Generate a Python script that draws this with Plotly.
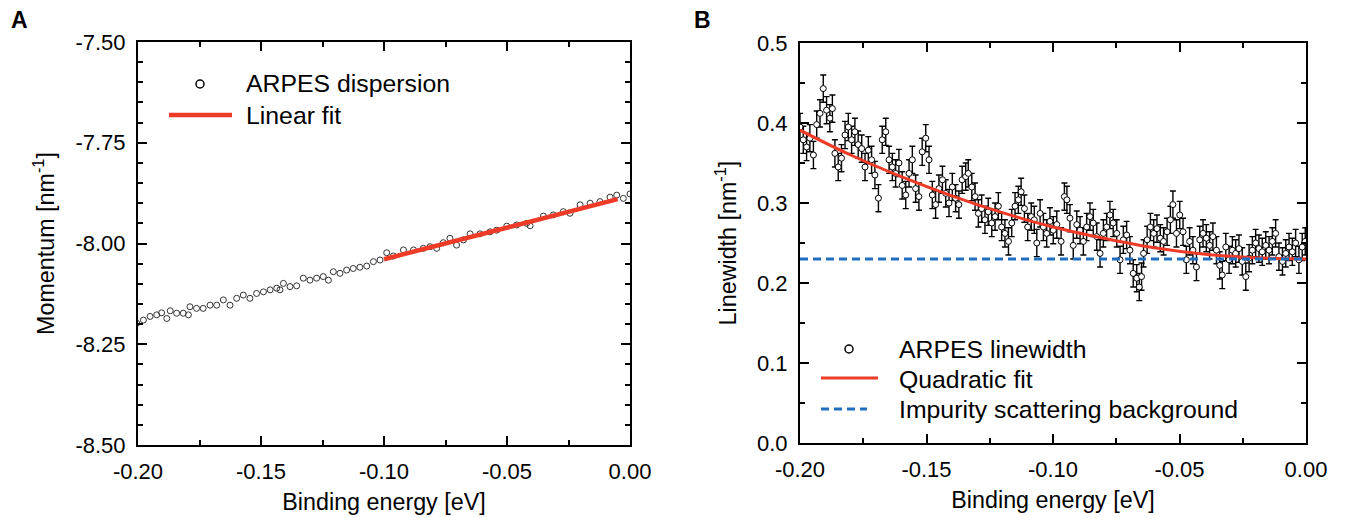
import numpy as np
import plotly.graph_objects as go

# ---------------- Panel A data ----------------
a_energy = [-0.2005, -0.1978, -0.1951, -0.1924, -0.1904, -0.1883, -0.1869, -0.1843, -0.1816, -0.1795,
            -0.1789, -0.1762, -0.1735, -0.1707, -0.1680, -0.1653, -0.1626, -0.1599, -0.1572, -0.1545,
            -0.1518, -0.1490, -0.1463, -0.1436, -0.1423, -0.1409, -0.1382, -0.1355, -0.1328, -0.1301,
            -0.1274, -0.1247, -0.1226, -0.1206, -0.1179, -0.1152, -0.1125, -0.1098, -0.1070, -0.1043,
            -0.1016, -0.0989, -0.0962, -0.0921, -0.0880, -0.0840, -0.0813, -0.0786, -0.0759, -0.0732,
            -0.0705, -0.0677, -0.0650, -0.0610, -0.0569, -0.0542, -0.0501, -0.0461, -0.0420, -0.0406,
            -0.0352, -0.0312, -0.0271, -0.0244, -0.0203, -0.0162, -0.0122, -0.0081, -0.0054, -0.0027,
            0.0000]
a_momentum = [-8.198, -8.190, -8.181, -8.177, -8.172, -8.186, -8.167, -8.173, -8.173, -8.177,
              -8.157, -8.161, -8.161, -8.153, -8.153, -8.140, -8.153, -8.136, -8.128, -8.136,
              -8.124, -8.120, -8.115, -8.111, -8.115, -8.099, -8.107, -8.105, -8.086, -8.091,
              -8.086, -8.082, -8.091, -8.070, -8.074, -8.066, -8.062, -8.059, -8.056, -8.045,
              -8.041, -8.023, -8.031, -8.016, -8.016, -8.012, -8.008, -8.012, -7.998, -7.987,
              -8.004, -7.991, -7.976, -7.976, -7.971, -7.967, -7.957, -7.954, -7.950, -7.956,
              -7.932, -7.929, -7.921, -7.925, -7.904, -7.900, -7.896, -7.885, -7.880, -7.888,
              -7.877]
a_fit_energy = [-0.100, -0.005]
a_fit_momentum = [-8.039, -7.890]

a_xtick_vals = [-0.20, -0.15, -0.10, -0.05, 0.00]
a_xtick_text = ["-0.20", "-0.15", "-0.10", "-0.05", "0.00"]
a_ytick_vals = [-7.50, -7.75, -8.00, -8.25, -8.50]
a_ytick_text = ["-7.50", "-7.75", "-8.00", "-8.25", "-8.50"]

# ---------------- Panel B data ----------------
b_energy = [-0.2000, -0.1987, -0.1974, -0.1961, -0.1947, -0.1934, -0.1921, -0.1908, -0.1895, -0.1882,
            -0.1872, -0.1862, -0.1849, -0.1836, -0.1822, -0.1809, -0.1796, -0.1783, -0.1770, -0.1756,
            -0.1743, -0.1730, -0.1717, -0.1704, -0.1690, -0.1675, -0.1661, -0.1648, -0.1635, -0.1622,
            -0.1609, -0.1596, -0.1582, -0.1569, -0.1556, -0.1543, -0.1530, -0.1517, -0.1503, -0.1490,
            -0.1477, -0.1464, -0.1451, -0.1437, -0.1424, -0.1411, -0.1398, -0.1385, -0.1372, -0.1359,
            -0.1345,
            -0.1335, -0.1321, -0.1308, -0.1295, -0.1282, -0.1269, -0.1256, -0.1242, -0.1229, -0.1216,
            -0.1203, -0.1190, -0.1176, -0.1163, -0.1150, -0.1137, -0.1126, -0.1113, -0.1100, -0.1086,
            -0.1074, -0.1064, -0.1051, -0.1038, -0.1025, -0.1012, -0.0999, -0.0985, -0.0968, -0.0955,
            -0.0945, -0.0933, -0.0920, -0.0906, -0.0893, -0.0880, -0.0867, -0.0854, -0.0841, -0.0827,
            -0.0814, -0.0801, -0.0788, -0.0775, -0.0762, -0.0748, -0.0735, -0.0722, -0.0709, -0.0696,
            -0.0683, -0.0669,
            -0.0659, -0.0650, -0.0642, -0.0628, -0.0615, -0.0602, -0.0589, -0.0576, -0.0563, -0.0549,
            -0.0536, -0.0526, -0.0512, -0.0499, -0.0486, -0.0473, -0.0460, -0.0447, -0.0433, -0.0420,
            -0.0407, -0.0394, -0.0381, -0.0368, -0.0354, -0.0341, -0.0331, -0.0317, -0.0304, -0.0291,
            -0.0278, -0.0265, -0.0252, -0.0238, -0.0225, -0.0212, -0.0199, -0.0186, -0.0173, -0.0159,
            -0.0146, -0.0133, -0.0120, -0.0107, -0.0093, -0.0080, -0.0067, -0.0054, -0.0041, -0.0028,
            -0.0015, -0.0003]
b_linewidth = [0.395, 0.379, 0.370, 0.381, 0.360, 0.398, 0.412, 0.443, 0.416, 0.406,
               0.418, 0.362, 0.345, 0.356, 0.385, 0.395, 0.379, 0.389, 0.373, 0.368,
               0.345, 0.366, 0.354, 0.335, 0.306, 0.379, 0.389, 0.354, 0.345, 0.337,
               0.350, 0.322, 0.310, 0.337, 0.354, 0.318, 0.308, 0.364, 0.381, 0.354,
               0.310, 0.298, 0.318, 0.329, 0.312, 0.300, 0.320, 0.306, 0.298, 0.329,
               0.333,
               0.337, 0.320, 0.308, 0.287, 0.293, 0.279, 0.289, 0.275, 0.283, 0.296,
               0.270, 0.262, 0.252, 0.275, 0.296, 0.304, 0.314, 0.293, 0.270, 0.283,
               0.279, 0.250, 0.287, 0.270, 0.262, 0.277, 0.266, 0.273, 0.252, 0.308,
               0.304, 0.281, 0.247, 0.273, 0.266, 0.252, 0.270, 0.283, 0.275, 0.258,
               0.237, 0.262, 0.270, 0.285, 0.275, 0.262, 0.229, 0.254, 0.260, 0.241,
               0.212, 0.206,
               0.195, 0.208, 0.237, 0.254, 0.270, 0.262, 0.268, 0.256, 0.252, 0.264,
               0.279, 0.298, 0.262, 0.285, 0.264, 0.229, 0.252, 0.241, 0.220, 0.254,
               0.262, 0.256, 0.247, 0.258, 0.241, 0.222, 0.210, 0.245, 0.229, 0.241,
               0.237, 0.243, 0.227, 0.208, 0.231, 0.241, 0.250, 0.243, 0.239, 0.247,
               0.241, 0.252, 0.262, 0.233, 0.227, 0.237, 0.245, 0.239, 0.250, 0.229,
               0.245, 0.252]
b_error = 0.017

b_fit_energy = [-0.20, -0.18, -0.16, -0.14, -0.12, -0.10, -0.08, -0.06, -0.04, -0.02, 0.00]
b_fit_linewidth = [0.391, 0.360, 0.333, 0.309, 0.288, 0.270, 0.256, 0.244, 0.236, 0.2316, 0.230]
b_bg_energy = [-0.20, 0.00]
b_bg_linewidth = [0.23, 0.23]

b_xtick_vals = [-0.20, -0.15, -0.10, -0.05, 0.00]
b_xtick_text = ["-0.20", "-0.15", "-0.10", "-0.05", "0.00"]
b_ytick_vals = [0.0, 0.1, 0.2, 0.3, 0.4, 0.5]
b_ytick_text = ["0.0", "0.1", "0.2", "0.3", "0.4", "0.5"]

# ---------------- styling ----------------
W, H = 1346, 518
OFF = 8  # page body margin
RED = "#EE3B28"
BLUE = "#1F6EC0"
FONT = "Arial, Liberation Sans, Helvetica, sans-serif"
TICK_SIZE = 22
TITLE_SIZE = 23.3
LEG_SIZE = 24.8


def px_x(p):
    return (p - OFF) / W


def px_y(p):
    return 1 - (p - OFF) / H


fig = go.Figure()

# Panel A
fig.add_trace(go.Scatter(x=a_energy, y=a_momentum, mode="markers", xaxis="x", yaxis="y",
                         marker=dict(symbol="circle-open", size=6, color="#333333",
                                     line=dict(width=1, color="#333333")),
                         name="ARPES dispersion", showlegend=False))
fig.add_trace(go.Scatter(x=a_fit_energy, y=a_fit_momentum, mode="lines", xaxis="x", yaxis="y",
                         line=dict(color=RED, width=4.5), name="Linear fit", showlegend=False))

# Panel B
fig.add_trace(go.Scatter(x=b_energy, y=b_linewidth, mode="markers", xaxis="x2", yaxis="y2",
                         marker=dict(symbol="circle", size=6, color="white",
                                     line=dict(width=1, color="black")),
                         error_y=dict(type="constant", value=b_error, color="black",
                                      thickness=1.4, width=3),
                         name="ARPES linewidth", showlegend=False))
fig.add_trace(go.Scatter(x=b_fit_energy, y=b_fit_linewidth, mode="lines", xaxis="x2", yaxis="y2",
                         line=dict(color=RED, width=3, shape="spline"),
                         name="Quadratic fit", showlegend=False))
fig.add_trace(go.Scatter(x=b_bg_energy, y=b_bg_linewidth, mode="lines", xaxis="x2", yaxis="y2",
                         line=dict(color=BLUE, width=3, dash="8px,5px"),
                         name="Impurity scattering background", showlegend=False))

axis_common = dict(showline=True, linewidth=2, linecolor="black", mirror="allticks",
                   ticks="inside", ticklen=9, tickwidth=2, tickcolor="black",
                   showgrid=False, zeroline=False, automargin=False,
                   tickfont=dict(family=FONT, size=TICK_SIZE, color="black"),
                   tickmode="array")

fig.update_layout(
    template="none",
    width=W, height=H,
    margin=dict(l=0, r=0, t=0, b=0, pad=0),
    paper_bgcolor="white", plot_bgcolor="white",
    font=dict(family=FONT, color="black"),
    xaxis=dict(**axis_common, domain=[px_x(138), px_x(630)], range=[-0.2, 0.0],
               tickvals=a_xtick_vals, ticktext=a_xtick_text, anchor="y",
               ticklabelstandoff=6,
               minor=dict(ticks="inside", ticklen=5, tickwidth=2, tickcolor="black",
                          tickmode="array", tickvals=list(np.arange(-0.175, 0.0, 0.05))),
               title=dict(text="Binding energy [eV]", font=dict(size=TITLE_SIZE), standoff=10)),
    yaxis=dict(**axis_common, domain=[px_y(445), px_y(42)], range=[-8.5, -7.5],
               tickvals=a_ytick_vals, ticktext=a_ytick_text, anchor="x",
               ticklabelstandoff=6,
               minor=dict(ticks="inside", ticklen=5, tickwidth=2, tickcolor="black",
                          tickmode="array",
                          tickvals=[v for v in np.arange(-8.45, -7.5, 0.05)
                                    if abs((v + 8.5) / 0.25 - round((v + 8.5) / 0.25)) > 0.05]),
               title=dict(text="Momentum [nm<sup>-1</sup>]", font=dict(size=TITLE_SIZE), standoff=14)),
    xaxis2=dict(**axis_common, domain=[px_x(800), px_x(1306)], range=[-0.2, 0.0],
                tickvals=b_xtick_vals, ticktext=b_xtick_text, anchor="y2",
                ticklabelstandoff=6,
                minor=dict(ticks="inside", ticklen=5, tickwidth=2, tickcolor="black",
                           tickmode="array", tickvals=list(np.arange(-0.175, 0.0, 0.05))),
                title=dict(text="Binding energy [eV]", font=dict(size=TITLE_SIZE), standoff=10)),
    yaxis2=dict(**axis_common, domain=[px_y(443), px_y(43)], range=[0.0, 0.5],
                tickvals=b_ytick_vals, ticktext=b_ytick_text, anchor="x2",
                ticklabelstandoff=6,
                minor=dict(ticks="inside", ticklen=5, tickwidth=2, tickcolor="black",
                           tickmode="array", tickvals=list(np.arange(0.05, 0.5, 0.1))),
                title=dict(text="Linewidth [nm<sup>-1</sup>]", font=dict(size=TITLE_SIZE), standoff=14)),
)

shapes = []
annotations = []

# Panel labels
annotations.append(dict(text="<b>A</b>", x=px_x(9), y=px_y(20), xref="paper", yref="paper",
                        xanchor="left", yanchor="middle", showarrow=False,
                        font=dict(family=FONT, size=23, color="black")))
annotations.append(dict(text="<b>B</b>", x=px_x(692), y=px_y(20), xref="paper", yref="paper",
                        xanchor="left", yanchor="middle", showarrow=False,
                        font=dict(family=FONT, size=23, color="black")))


def legend_text(txt, x, y):
    annotations.append(dict(text=txt, x=px_x(x), y=px_y(y), xref="paper", yref="paper",
                            xanchor="left", yanchor="middle", showarrow=False,
                            font=dict(family=FONT, size=LEG_SIZE, color="black")))


def legend_circle(cx, cy, r=4):
    shapes.append(dict(type="circle", xref="paper", yref="paper", xsizemode="pixel",
                       ysizemode="pixel", xanchor=px_x(cx), yanchor=px_y(cy),
                       x0=-r, x1=r, y0=-r, y1=r, line=dict(color="black", width=1.5),
                       fillcolor="white"))


def legend_line(x0, x1, y, color, width, dash="solid"):
    shapes.append(dict(type="line", xref="paper", yref="paper", x0=px_x(x0), x1=px_x(x1),
                       y0=px_y(y), y1=px_y(y), line=dict(color=color, width=width, dash=dash)))


# Legend A
legend_circle(200, 84)
legend_text("ARPES dispersion", 244, 83)
legend_line(169, 232, 115, RED, 4.5)
legend_text("Linear fit", 244, 115)

# Legend B
legend_circle(849, 349)
legend_text("ARPES linewidth", 897, 349)
legend_line(821, 878, 378, RED, 3)
legend_text("Quadratic fit", 897, 379)
legend_line(821, 867, 409, BLUE, 3, "8px,5px")
legend_text("Impurity scattering background", 897, 409)

fig.update_layout(shapes=shapes, annotations=annotations)

fig.write_html("out.html")
